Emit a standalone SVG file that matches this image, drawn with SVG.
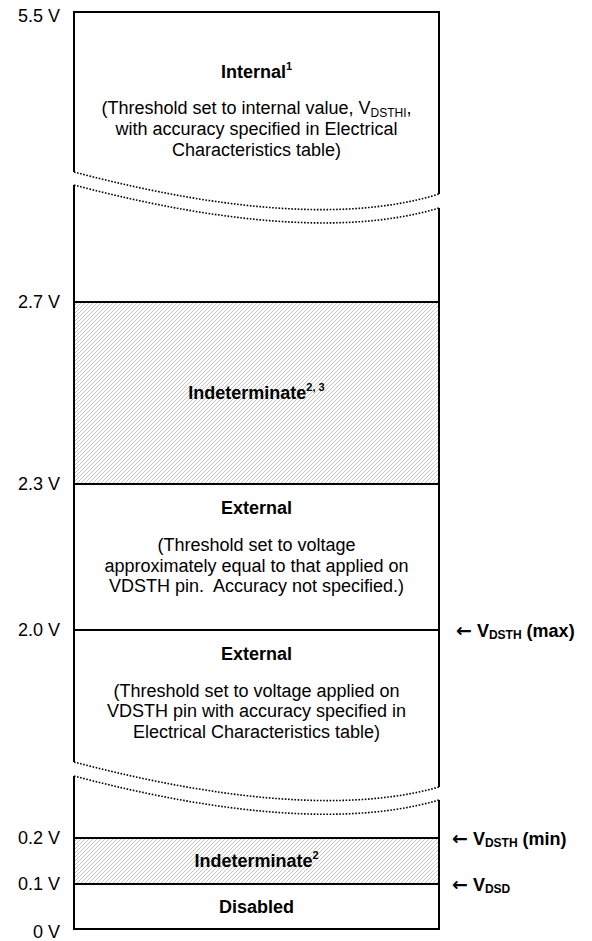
<svg xmlns="http://www.w3.org/2000/svg" width="592" height="941" viewBox="0 0 592 941">
<style>
text{font-family:"Liberation Sans",Arial,sans-serif;fill:#000}
.lbl{font-size:18px;text-anchor:end}
.hd{font-size:18px;font-weight:bold;text-anchor:middle}
.bd{font-size:18px;text-anchor:middle}
.rt{font-size:18px;font-weight:bold}
.arr{font-family:"DejaVu Sans",sans-serif;font-size:19px;font-weight:bold}
.sub{font-size:12px}
.sup{font-size:11px}
.edge{stroke:#000;stroke-width:2;fill:none}
.brk{stroke:#000;stroke-width:1.6;fill:none;stroke-dasharray:1.6 1.6}
</style>
<defs>
<pattern id="hatch" patternUnits="userSpaceOnUse" width="4" height="4">
<rect width="4" height="4" fill="#fff"/>
<path d="M-1,1 L1,-1 M0,4 L4,0 M3,5 L5,3" stroke="#c4c4c4" stroke-width="1"/>
</pattern>
</defs>
<rect width="592" height="941" fill="#fff"/>

<g id="region-internal">
<text class="hd" x="256.5" y="78">Internal<tspan class="sup" dy="-8">1</tspan></text>
<text class="bd" x="256.5" y="114">(Threshold set to internal value, V<tspan class="sub" dy="3">DSTHI</tspan><tspan dy="-3">,</tspan></text>
<text class="bd" x="256.5" y="135">with accuracy specified in Electrical</text>
<text class="bd" x="256.5" y="156">Characteristics table)</text>
</g>

<g id="region-indeterminate-high">
<rect x="75" y="303" width="363" height="181" fill="url(#hatch)"/>
<text class="hd" x="256.5" y="399">Indeterminate<tspan class="sup" dy="-8">2, 3</tspan></text>
</g>

<g id="region-external-approx">
<text class="hd" x="256.5" y="514">External</text>
<text class="bd" x="256.5" y="551">(Threshold set to voltage</text>
<text class="bd" x="256.5" y="572">approximately equal to that applied on</text>
<text class="bd" x="256.5" y="592" xml:space="preserve">VDSTH pin.  Accuracy not specified.)</text>
</g>

<g id="region-external">
<text class="hd" x="256.5" y="660">External</text>
<text class="bd" x="256.5" y="697">(Threshold set to voltage applied on</text>
<text class="bd" x="256.5" y="717">VDSTH pin with accuracy specified in</text>
<text class="bd" x="256.5" y="738">Electrical Characteristics table)</text>
</g>

<g id="region-indeterminate-low">
<rect x="75" y="839" width="363" height="45" fill="url(#hatch)"/>
<text class="hd" x="256.5" y="867">Indeterminate<tspan class="sup" dy="-8">2</tspan></text>
</g>

<g id="region-disabled">
<text class="hd" x="256.5" y="913">Disabled</text>
</g>

<g id="frame">
<path class="edge" d="M74,12 H439 M74,929 H439 M74,11 V172 M74,185 V762 M74,776 V930 M439,11 V194 M439,208 V787 M439,800 V930"/>
<path class="edge" d="M74,302 H439 M74,484 H439 M74,630 H439 M74,838 H439 M74,884 H439"/>
<path class="brk" d="M74,172 C180,200 330,228 439,194"/>
<path class="brk" d="M74,185 C180,213 330,241 439,208"/>
<path class="brk" d="M74,762 C180,790 330,818 439,787"/>
<path class="brk" d="M74,776 C180,804 330,832 439,800"/>
</g>

<g id="axis-labels">
<text class="lbl" x="60" y="22">5.5 V</text>
<text class="lbl" x="60" y="308">2.7 V</text>
<text class="lbl" x="60" y="490">2.3 V</text>
<text class="lbl" x="60" y="636">2.0 V</text>
<text class="lbl" x="60" y="844">0.2 V</text>
<text class="lbl" x="60" y="890">0.1 V</text>
<text class="lbl" x="60" y="938">0 V</text>
</g>

<g id="markers">
<text class="rt" x="456" y="637"><tspan class="arr">←</tspan> V<tspan class="sub" dy="2">DSTH</tspan><tspan dy="-2"> (max)</tspan></text>
<text class="rt" x="452" y="845"><tspan class="arr">←</tspan> V<tspan class="sub" dy="2">DSTH</tspan><tspan dy="-2"> (min)</tspan></text>
<text class="rt" x="452" y="891"><tspan class="arr">←</tspan> V<tspan class="sub" dy="2">DSD</tspan></text>
</g>
</svg>
